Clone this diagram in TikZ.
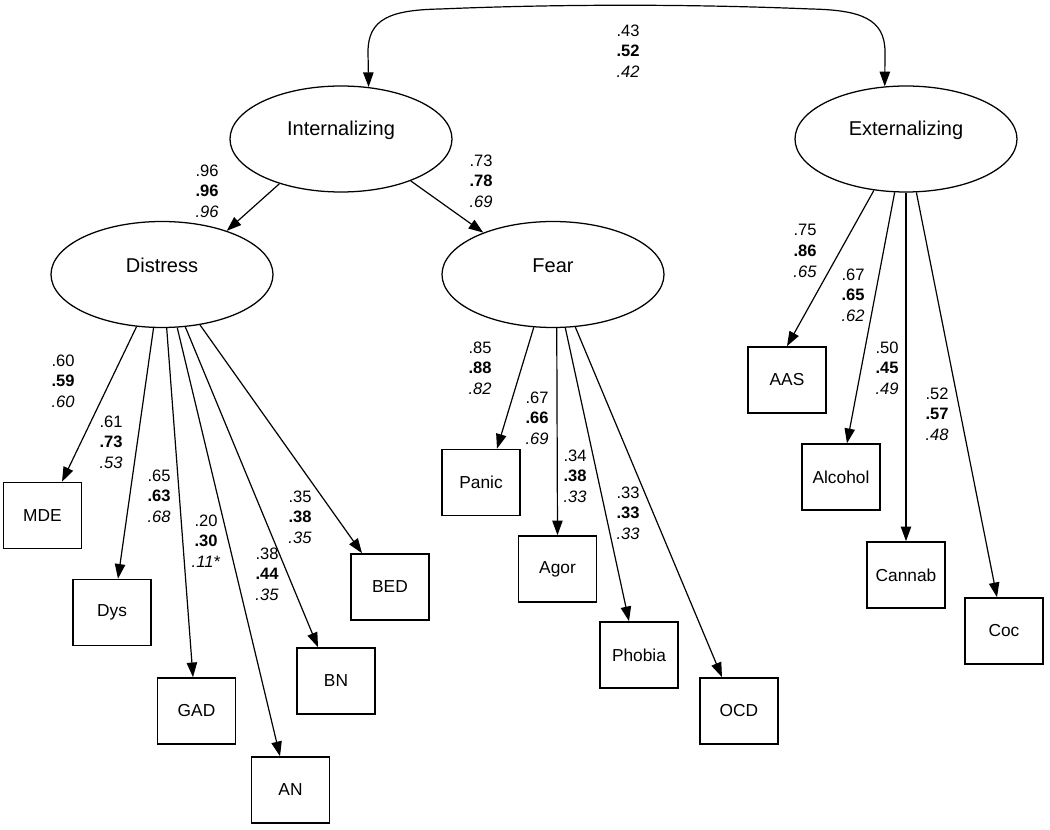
\documentclass[tikz,border=0pt]{standalone}
\usepackage{fontspec}
\setmainfont{Liberation Sans}
\usetikzlibrary{arrows.meta,calc,shapes.geometric}
\begin{document}
\begin{tikzpicture}[x=0.75pt,y=-0.75pt,
 latent/.style={draw,ellipse,line width=0.95pt,minimum width=166.5pt,minimum height=79.5pt,inner sep=0pt},
 obs/.style={draw,rectangle,line width=1.2pt,minimum width=58.5pt,minimum height=49.5pt,inner sep=0pt,font=\fontsize{13}{15}\selectfont},
 ltxt/.style={font=\fontsize{15}{18}\selectfont,inner sep=0pt},
 coef/.style={align=center,font=\fontsize{12.4}{15.5}\selectfont,inner sep=0pt},
 arr/.style={-{Triangle[length=11pt,width=7.8pt]},line width=0.9pt},
 biarr/.style={{Triangle[length=11pt,width=7.8pt]}-{Triangle[length=11pt,width=7.8pt]},line width=0.9pt}]
\useasboundingbox (0,0) rectangle (1050,830);

% latent variables
\node[latent,label={[ltxt,yshift=6.75pt]center:Internalizing}] (int) at (341,139) {};
\node[latent,label={[ltxt,yshift=6.75pt]center:Externalizing}] (ext) at (906,139) {};
\node[latent,label={[ltxt,yshift=6.75pt]center:Distress}] (dis) at (162,274.5) {};
\node[latent,label={[ltxt,yshift=6.75pt]center:Fear}] (fear) at (553,274.5) {};

% observed variables
\node[obs] (mde) at (42.5,515.5) {MDE};
\node[obs] (dys) at (112,612.5) {Dys};
\node[obs] (gad) at (196.5,711) {GAD};
\node[obs] (an) at (290.5,790) {AN};
\node[obs] (bn) at (336,681) {BN};
\node[obs] (bed) at (390,587) {BED};
\node[obs] (panic) at (481,482.5) {Panic};
\node[obs] (agor) at (557.5,569) {Agor};
\node[obs] (phobia) at (639,655) {Phobia};
\node[obs] (ocd) at (739,711) {OCD};
\node[obs] (aas) at (787,380) {AAS};
\node[obs] (alc) at (841,477) {Alcohol};
\node[obs] (can) at (906,575) {Cannab};
\node[obs] (coc) at (1004,631) {Coc};

% correlation
\coordinate (c1) at (368,52);
\coordinate (c2) at (440,9);
\coordinate (c3) at (811,9);
\coordinate (c4) at (885,52);
\draw[biarr] (int.62.3) -- (c1) .. controls (368,19) and (390,10) .. (c2)
  .. controls (560,4) and (690,4) .. (c3) .. controls (861,10) and (885,19) .. (c4) -- (ext.112);
\node[coef] (r1) at (628,51) {.43\\\textbf{.52}\\\textit{.42}};

% higher order loadings
\draw[arr] (int.216) -- (dis.34.45);
\draw[arr] (int.329) -- (fear.149.8);
\node[coef] (l1) at (207,191) {.96\\\textbf{.96}\\\textit{.96}};
\node[coef] (l2) at (481,181) {.73\\\textbf{.78}\\\textit{.69}};

% distress loadings
\draw[arr] (dis.244) -- ($(mde.north)+(19.5,0)$);
\draw[arr] (dis.261.3) -- ($(dys.north)+(6,0)$);
\draw[arr] (dis.275.4) -- ($(gad.north)+(-3.5,0)$);
\draw[arr] (dis.286.1) -- ($(an.north)+(-10.5,0)$);
\draw[arr] (dis.294.1) -- ($(bn.north)+(-18,0)$);
\draw[arr] (dis.307.6) -- ($(bed.north)+(-28,0)$);
\node[coef] (d1) at (63,381) {.60\\\textbf{.59}\\\textit{.60}};
\node[coef] (d2) at (111,442) {.61\\\textbf{.73}\\\textit{.53}};
\node[coef] (d3) at (159,496) {.65\\\textbf{.63}\\\textit{.68}};
\node[coef] (d4) at (206,541) {.20\\\textbf{.30}\\\textit{.11*}};
\node[coef] (d5) at (267,574) {.38\\\textbf{.44}\\\textit{.35}};
\node[coef] (d6) at (300,517) {.35\\\textbf{.38}\\\textit{.35}};

% fear loadings
\draw[arr] (fear.250.8) -- ($(panic.north)+(16,0)$);
\draw[arr] (fear.274.9) -- (agor.north);
\draw[arr] (fear.283) -- ($(phobia.north)+(-10,0)$);
\draw[arr] (fear.293.1) -- ($(ocd.north)+(-17,0)$);
\node[coef] (f1) at (480,368) {.85\\\textbf{.88}\\\textit{.82}};
\node[coef] (f2) at (537,418) {.67\\\textbf{.66}\\\textit{.69}};
\node[coef] (f3) at (575,476) {.34\\\textbf{.38}\\\textit{.33}};
\node[coef] (f4) at (628,513) {.33\\\textbf{.33}\\\textit{.33}};

% externalizing loadings
\draw[arr] (ext.238.6) -- (aas.north);
\draw[arr] (ext.258.2) -- ($(alc.north)+(6,0)$);
\draw[arr] (ext.270) -- (can.north);
\draw[arr] (ext.281.8) -- ($(coc.north)+(-7,0)$);
\node[coef] (e1) at (805,251) {.75\\\textbf{.86}\\\textit{.65}};
\node[coef] (e2) at (853,295) {.67\\\textbf{.65}\\\textit{.62}};
\node[coef] (e3) at (887,368) {.50\\\textbf{.45}\\\textit{.49}};
\node[coef] (e4) at (937,414) {.52\\\textbf{.57}\\\textit{.48}};
\end{tikzpicture}
\end{document}
